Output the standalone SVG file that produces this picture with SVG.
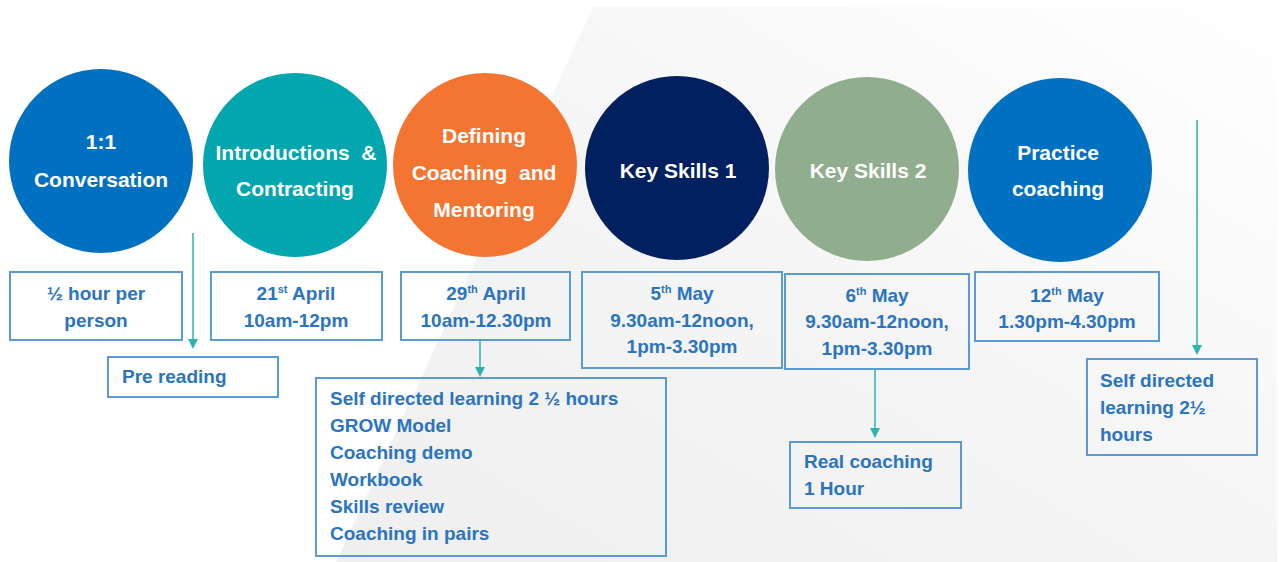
<svg xmlns="http://www.w3.org/2000/svg" width="1279" height="562" viewBox="0 0 1279 562">
  <defs>
    <linearGradient id="bg" x1="0" y1="1" x2="1" y2="0">
      <stop offset="0" stop-color="#efefef"/>
      <stop offset="0.5" stop-color="#f5f5f5"/>
      <stop offset="1" stop-color="#ffffff"/>
    </linearGradient>
    <style>
      .circ-t { font-family: "Liberation Sans", Arial, sans-serif; font-weight: bold; font-size: 21px; fill: #ffffff; text-anchor: middle; }
      .box { fill: none; stroke: #5b9bd5; stroke-width: 2; }
      .bt { font-family: "Liberation Sans", Arial, sans-serif; font-weight: bold; font-size: 19px; fill: #2b74bf; }
      .c { text-anchor: middle; }
      .sup { font-size: 11px; }
      .conn { stroke: #3bb7b3; stroke-width: 1.6; fill: none; }
      .head { fill: #2fb3ad; }
    </style>
  </defs>
  <rect width="1279" height="562" fill="#ffffff"/>
  <polygon points="593,7 1277,7 1277,562 336,562" fill="url(#bg)"/>

  <g id="n1"><circle cx="101" cy="161" r="92" fill="#0070c0"/>
    <text class="circ-t" x="101" y="149">1:1</text>
    <text class="circ-t" x="101" y="187">Conversation</text></g>
  <g id="n2"><circle cx="295" cy="165" r="92" fill="#01a6ae"/>
    <text class="circ-t" x="296" y="160" xml:space="preserve">Introductions  &amp;</text>
    <text class="circ-t" x="295" y="196">Contracting</text></g>
  <g id="n3"><circle cx="485" cy="165" r="92" fill="#f47532"/>
    <text class="circ-t" x="484" y="143">Defining</text>
    <text class="circ-t" x="484" y="180" xml:space="preserve">Coaching  and</text>
    <text class="circ-t" x="484" y="217">Mentoring</text></g>
  <g id="n4"><circle cx="677" cy="168" r="92" fill="#002060"/>
    <text class="circ-t" x="678" y="178">Key Skills 1</text></g>
  <g id="n5"><circle cx="867" cy="169" r="92" fill="#90ae8e"/>
    <text class="circ-t" x="868" y="178">Key Skills 2</text></g>
  <g id="n6"><circle cx="1060" cy="170" r="92" fill="#0070c0"/>
    <text class="circ-t" x="1058" y="160">Practice</text>
    <text class="circ-t" x="1058" y="196">coaching</text></g>

  <g id="b1"><rect class="box" x="10" y="272" width="172" height="68"/>
    <text class="bt c" x="96" y="300">½ hour per</text>
    <text class="bt c" x="96" y="327">person</text></g>
  <g id="b2"><rect class="box" x="211" y="272" width="171" height="68"/>
    <text class="bt c" x="296" y="300">21<tspan class="sup" dy="-7">st</tspan><tspan dy="7"> April</tspan></text>
    <text class="bt c" x="296" y="327">10am-12pm</text></g>
  <g id="b3"><rect class="box" x="401" y="272" width="169" height="68"/>
    <text class="bt c" x="486" y="300">29<tspan class="sup" dy="-7">th</tspan><tspan dy="7"> April</tspan></text>
    <text class="bt c" x="486" y="327">10am-12.30pm</text></g>
  <g id="b4"><rect class="box" x="582" y="272" width="200" height="96"/>
    <text class="bt c" x="682" y="300">5<tspan class="sup" dy="-7">th</tspan><tspan dy="7"> May</tspan></text>
    <text class="bt c" x="682" y="327">9.30am-12noon,</text>
    <text class="bt c" x="682" y="353">1pm-3.30pm</text></g>
  <g id="b5"><rect class="box" x="785" y="274" width="184" height="95"/>
    <text class="bt c" x="877" y="302">6<tspan class="sup" dy="-7">th</tspan><tspan dy="7"> May</tspan></text>
    <text class="bt c" x="877" y="328">9.30am-12noon,</text>
    <text class="bt c" x="877" y="355">1pm-3.30pm</text></g>
  <g id="b6"><rect class="box" x="975" y="272" width="184" height="69"/>
    <text class="bt c" x="1067" y="302">12<tspan class="sup" dy="-7">th</tspan><tspan dy="7"> May</tspan></text>
    <text class="bt c" x="1067" y="328">1.30pm-4.30pm</text></g>

  <g id="pre"><rect class="box" x="108" y="357" width="170" height="40"/>
    <text class="bt" x="122" y="383">Pre reading</text></g>
  <g id="sdl1"><rect class="box" x="316" y="378" width="350" height="178"/>
    <text class="bt" x="330" y="405">Self directed learning 2 ½ hours</text>
    <text class="bt" x="330" y="432">GROW Model</text>
    <text class="bt" x="330" y="459">Coaching demo</text>
    <text class="bt" x="330" y="486">Workbook</text>
    <text class="bt" x="330" y="513">Skills review</text>
    <text class="bt" x="330" y="540">Coaching in pairs</text></g>
  <g id="real"><rect class="box" x="790" y="442" width="171" height="66"/>
    <text class="bt" x="804" y="468">Real coaching</text>
    <text class="bt" x="804" y="495">1 Hour</text></g>
  <g id="sdl2"><rect class="box" x="1087" y="359" width="170" height="96"/>
    <text class="bt" x="1100" y="387">Self directed</text>
    <text class="bt" x="1100" y="414">learning 2½</text>
    <text class="bt" x="1100" y="441">hours</text></g>

  <g id="connectors">
    <line class="conn" x1="193" y1="233" x2="193" y2="340"/>
    <path class="head" d="M188,339 L198,339 L193,349 Z"/>
    <line class="conn" x1="480" y1="341" x2="480" y2="368"/>
    <path class="head" d="M475,367 L485,367 L480,377 Z"/>
    <line class="conn" x1="875" y1="369" x2="875" y2="429"/>
    <path class="head" d="M870,428 L880,428 L875,438 Z"/>
    <line class="conn" x1="1197" y1="120" x2="1197" y2="346"/>
    <path class="head" d="M1192,345 L1202,345 L1197,355 Z"/>
  </g>
</svg>
